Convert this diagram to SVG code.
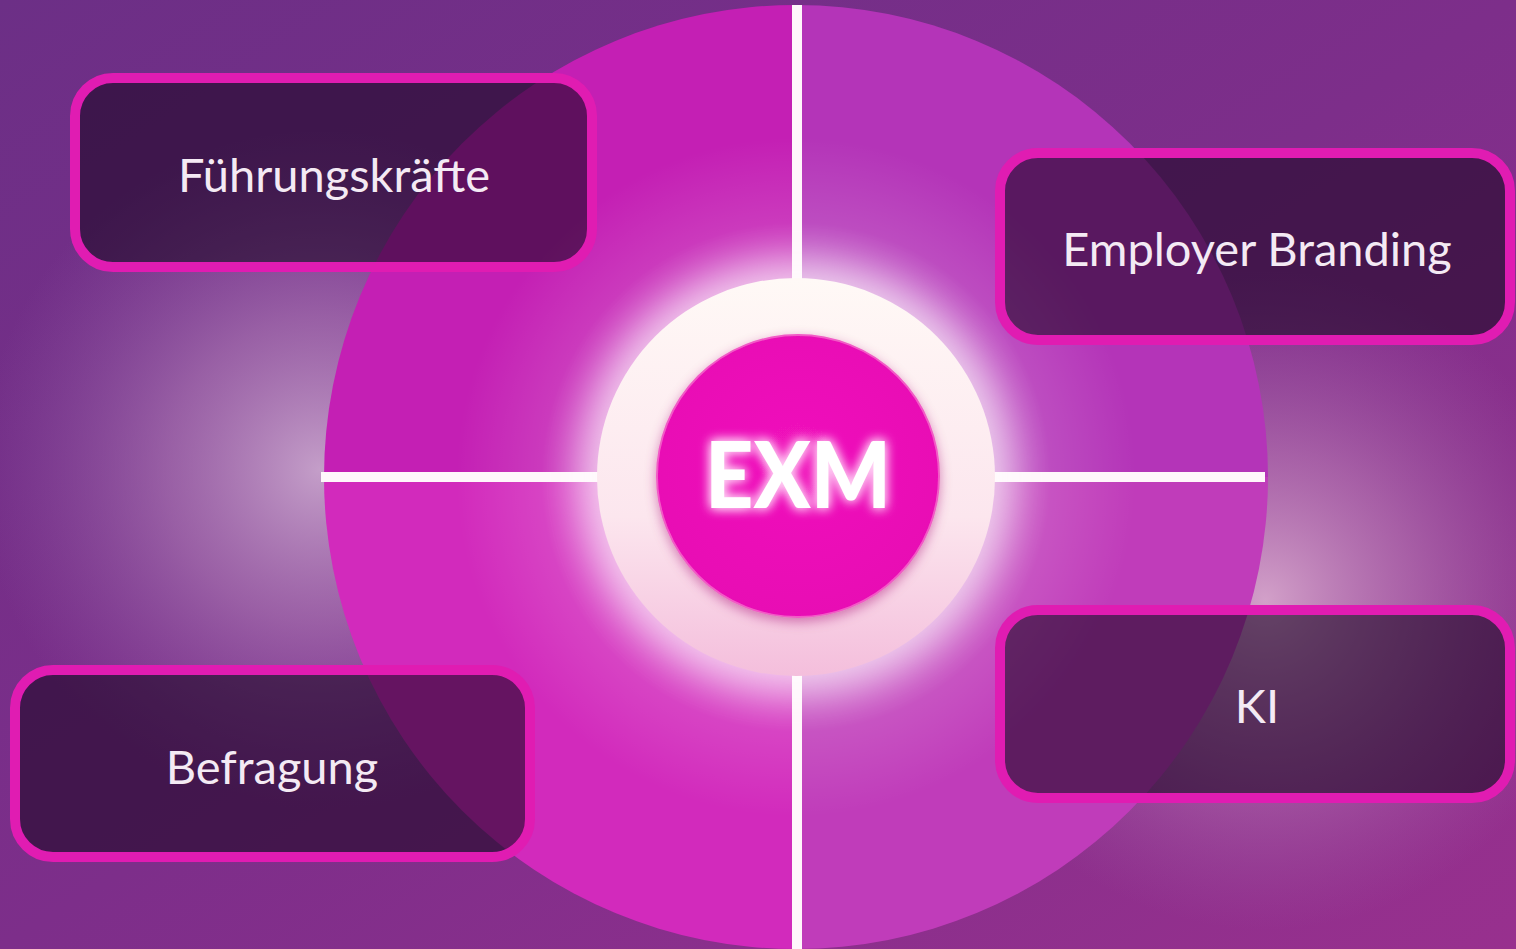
<svg xmlns="http://www.w3.org/2000/svg" width="1516" height="949" viewBox="0 0 1516 949">
<defs>
<style>
.box{stroke:#e01cb2;stroke-width:10;fill:#1c0624;fill-opacity:0.6}
.lbl{font-family:Lato,"Open Sans","Liberation Sans",sans-serif;font-size:47px;fill:#f4eaf4;text-anchor:middle}
.axis{stroke:#fff6fb;stroke-width:10}
</style>
<linearGradient id="bg" x1="0" y1="0" x2="1" y2="1">
<stop offset="0" stop-color="#6c2f86"/>
<stop offset="0.5" stop-color="#7d2e8a"/>
<stop offset="1" stop-color="#98308e"/>
</linearGradient>
<radialGradient id="glowL" cx="320" cy="470" r="340" gradientUnits="userSpaceOnUse">
<stop offset="0" stop-color="#c8a4cc" stop-opacity="0.95"/>
<stop offset="0.45" stop-color="#b080b8" stop-opacity="0.6"/>
<stop offset="1" stop-color="#9060a8" stop-opacity="0"/>
</radialGradient>
<radialGradient id="glowR" cx="1265" cy="600" r="330" gradientUnits="userSpaceOnUse">
<stop offset="0" stop-color="#d6a6cc" stop-opacity="0.95"/>
<stop offset="0.45" stop-color="#bc80b8" stop-opacity="0.6"/>
<stop offset="1" stop-color="#a060a8" stop-opacity="0"/>
</radialGradient>
<radialGradient id="inner" cx="796" cy="477" r="340" gradientUnits="userSpaceOnUse">
<stop offset="0.55" stop-color="#ffffff" stop-opacity="0.45"/>
<stop offset="0.75" stop-color="#ffffff" stop-opacity="0.12"/>
<stop offset="1" stop-color="#ffffff" stop-opacity="0"/>
</radialGradient>
<linearGradient id="ring" x1="0" y1="0" x2="0" y2="1">
<stop offset="0" stop-color="#fff9f6"/>
<stop offset="0.6" stop-color="#fce6ee"/>
<stop offset="1" stop-color="#f4bedc"/>
</linearGradient>
<radialGradient id="core" cx="0.5" cy="0.45" r="0.55">
<stop offset="0" stop-color="#f014bc"/>
<stop offset="1" stop-color="#e808b4"/>
</radialGradient>
<clipPath id="disc"><circle cx="796" cy="477" r="472"/></clipPath>
<filter id="soft" x="-50%" y="-50%" width="200%" height="200%"><feGaussianBlur stdDeviation="18"/></filter>
<filter id="shadow" x="-20%" y="-20%" width="140%" height="140%">
<feDropShadow dx="0" dy="4" stdDeviation="6" flood-color="#a0106e" flood-opacity="0.45"/>
</filter>
<filter id="txtglow" x="-30%" y="-50%" width="160%" height="200%">
<feGaussianBlur in="SourceAlpha" stdDeviation="6" result="b"/>
<feFlood flood-color="#ffd0f4"/>
<feComposite in2="b" operator="in" result="g"/>
<feMerge><feMergeNode in="g"/><feMergeNode in="g"/><feMergeNode in="SourceGraphic"/></feMerge>
</filter>
</defs>

<rect width="1516" height="949" fill="url(#bg)"/>
<rect width="1516" height="949" fill="url(#glowL)"/>
<rect width="1516" height="949" fill="url(#glowR)"/>

<g id="disc-quadrants" clip-path="url(#disc)">
<rect x="300" y="0" width="496" height="477" fill="#c41fb4"/>
<rect x="796" y="0" width="500" height="477" fill="#b434b8"/>
<rect x="300" y="477" width="496" height="480" fill="#d22abc"/>
<rect x="796" y="477" width="500" height="480" fill="#c03cba"/>
<circle cx="796" cy="477" r="472" fill="url(#inner)"/>
</g>

<g id="connectors">
<line class="axis" x1="797" y1="5" x2="797" y2="285"/>
<line class="axis" x1="797" y1="670" x2="797" y2="949"/>
<line class="axis" x1="321" y1="477" x2="605" y2="477"/>
<line class="axis" x1="990" y1="477" x2="1265" y2="477"/>
</g>

<g id="node-exm">
<circle cx="796" cy="477" r="215" fill="#ffffff" opacity="0.55" filter="url(#soft)"/>
<circle cx="796" cy="477" r="199" fill="url(#ring)"/>
<circle cx="798" cy="476" r="141" fill="url(#core)" stroke="#f25ac6" stroke-width="2" filter="url(#shadow)"/>
<text x="798" y="508" font-family="Lato,'Liberation Sans',sans-serif" font-weight="900" font-size="92" fill="#ffffff" text-anchor="middle" textLength="186" lengthAdjust="spacingAndGlyphs" filter="url(#txtglow)">EXM</text>
</g>

<g id="node-fuehrung">
<rect class="box" x="75" y="78" width="517" height="189" rx="38"/>
<text class="lbl" x="334" y="192">Führungskräfte</text>
</g>

<g id="node-employer">
<rect class="box" x="1000" y="153" width="510" height="187" rx="38"/>
<text class="lbl" x="1257" y="266">Employer Branding</text>
</g>

<g id="node-ki">
<rect class="box" x="1000" y="610" width="510" height="188" rx="38"/>
<text class="lbl" x="1257" y="723">KI</text>
</g>

<g id="node-befragung">
<rect class="box" x="15" y="670" width="515" height="187" rx="38"/>
<text class="lbl" x="272" y="784">Befragung</text>
</g>
</svg>
